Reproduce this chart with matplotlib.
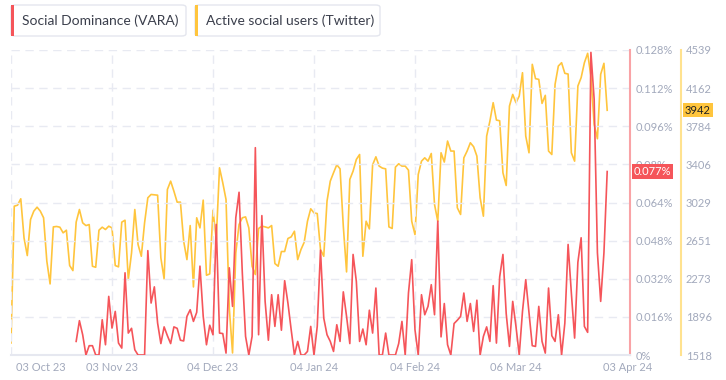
import pandas as pd
import matplotlib
matplotlib.use("Agg")
import matplotlib.pyplot as plt
import matplotlib.transforms as mtransforms
from matplotlib.patches import FancyBboxPatch, Rectangle

plt.rcParams['font.family'] = ['Lato', 'DejaVu Sans']

start_date = "2023-10-03"

# daily values (social dominance in %, first 20 days missing)
social_dominance = [None] * 20 + [
    0.0057, 0.0144, 0.0085, 0.0, 0.0039, 0.0039, 0.0, 0.0, 0.0148, 0.0043,
    0.0246, 0.0113, 0.0183, 0.0050, 0.0029, 0.0345, 0.0092, 0.0112, 0.0022, 0.0,
    0.0, 0.0, 0.0438, 0.0218, 0.0286, 0.0134, 0.0048, 0.0118, 0.0081, 0.0048,
    0.0118, 0.0112, 0.0062, 0.0059, 0.0162, 0.0190, 0.0141, 0.0179, 0.0373, 0.0162,
    0.0043, 0.0125, 0.0085, 0.0548, 0.0092, 0.0090, 0.0008, 0.0366, 0.0204, 0.0576,
    0.0683, 0.0345, 0.0078, 0.0, 0.0078, 0.0870, 0.0085, 0.0585, 0.0225, 0.0062,
    0.0253, 0.0120, 0.0253, 0.0104, 0.0312, 0.0218, 0.0106, 0.0, 0.0057, 0.0,
    0.0, 0.0015, 0.0120, 0.0, 0.0120, 0.0440, 0.0155, 0.0085, 0.0057, 0.0015,
    0.0127, 0.0057, 0.0265, 0.0162, 0.0048, 0.0422, 0.0309, 0.0057, 0.0109, 0.0043,
    0.0188, 0.0092, 0.0281, 0.0, 0.0, 0.0092, 0.0, 0.0, 0.0, 0.0048,
    0.0141, 0.0, 0.0260, 0.0400, 0.0106, 0.0, 0.0253, 0.0169, 0.0204, 0.0295,
    0.0169, 0.0562, 0.0076, 0.0216, 0.0043, 0.0, 0.0132, 0.0146, 0.0162, 0.0260,
    0.0141, 0.0216, 0.0099, 0.0230, 0.0, 0.0078, 0.0118, 0.0057, 0.0291, 0.0050,
    0.0328, 0.0422, 0.0174, 0.0036, 0.0225, 0.0120, 0.0, 0.0183, 0.0316, 0.0176,
    0.0039, 0.0036, 0.0204, 0.0057, 0.0008, 0.0281, 0.0081, 0.0057, 0.0169, 0.0,
    0.0134, 0.0464, 0.0260, 0.0071, 0.0389, 0.0492, 0.0120, 0.0095, 0.1270, 0.1073,
    0.0429, 0.0225, 0.0429, 0.0770,
]

active_users = [
    1637, 2992, 3002, 3065, 2678, 2503, 2860, 2943, 2982, 2943,
    2877, 2447, 2222, 2787, 2791, 2784, 2728, 2754, 2404, 2354,
    2834, 2959, 2827, 2800, 2810, 2397, 2387, 2754, 2784, 2761,
    2794, 2777, 2404, 2391, 2834, 2853, 2265, 2529, 2959, 2612,
    2496, 2827, 3075, 3108, 3105, 3101, 2480, 2272, 3157, 3240,
    3141, 3032, 3032, 2645, 2463, 2800, 2192, 2877, 2777, 3052,
    2308, 2321, 2952, 2662, 3372, 3224, 3058, 1984, 1538, 2529,
    2810, 2877, 2886, 2777, 2397, 2315, 2771, 2794, 2787, 2777,
    2800, 2424, 2397, 2543, 2543, 2672, 2688, 2744, 2463, 2562,
    2635, 2843, 2966, 2926, 2919, 2562, 2496, 3042, 3240, 3323,
    3402, 3362, 2794, 2341, 3257, 3339, 3455, 3504, 2496, 2843,
    2767, 3402, 3481, 3389, 3369, 3362, 2787, 2771, 3379, 3412,
    3389, 3389, 3349, 2843, 2711, 3306, 3438, 3471, 3438, 3514,
    3009, 2843, 3521, 3429, 3637, 3538, 3538, 2976, 2910, 3471,
    3538, 3620, 3581, 3488, 3075, 2893, 3686, 3835, 4017, 3845,
    3838, 3323, 3197, 3984, 4099, 4017, 4083, 4314, 3686, 3521,
    4397, 4255, 4248, 4010, 4090, 3538, 3504, 4199, 4380, 4413,
    4308, 4301, 3521, 3438, 4182, 4265, 4413, 4506, 4281, 3802,
    3660, 4298, 4407, 3942,
]

tick_dates = ["2023-10-03", "2023-11-03", "2023-12-04", "2024-01-04",
              "2024-02-04", "2024-03-06", "2024-04-03"]
tick_labels = ["03 Oct 23", "03 Nov 23", "04 Dec 23", "04 Jan 24",
               "04 Feb 24", "06 Mar 24", "03 Apr 24"]
dom_ticks = [0, 0.016, 0.032, 0.048, 0.064, 0.08, 0.096, 0.112, 0.128]
dom_labels = ["0%", "0.016%", "0.032%", "0.048%", "0.064%", "0.08%",
              "0.096%", "0.112%", "0.128%"]
user_ticks = [1518, 1896, 2273, 2651, 3029, 3406, 3784, 4162, 4539]

RED = "#f5555a"
YELLOW = "#ffc53d"
GRID = "#e8eaf2"
TICK = "#a2a9bc"

dates = pd.date_range(start_date, periods=len(active_users), freq="D")
tick_pos = pd.to_datetime(tick_dates)

W, H = 726, 380
PX = 72 / 100  # points per pixel
fig = plt.figure(figsize=(W / 100, H / 100), dpi=100)
ax = fig.add_axes([11 / W, 25 / H, (630 - 11) / W, (355 - 50) / H])
ay = ax.twinx()
ax.set_zorder(2)
ay.set_zorder(1)
ax.patch.set_visible(False)

ax.plot(dates, social_dominance, color=RED, lw=1.2, zorder=3)
ay.plot(dates, active_users, color=YELLOW, lw=1.2, zorder=3)

ax.set_xlim(dates[0], dates[0] + pd.Timedelta(days=190))
ax.set_ylim(0, 0.128)
ay.set_ylim(1518, 4539)

# grid
for y in dom_ticks[1:]:
    ax.axhline(y, color=GRID, lw=1, dashes=(6, 4), zorder=0)
for d in tick_pos[:-1]:
    ax.axvline(d, color=GRID, lw=1, dashes=(6, 4), zorder=0)

for a in (ax, ay):
    for s in ("top", "left"):
        a.spines[s].set_visible(False)
ax.spines["bottom"].set_color("#e6e8f0")
ax.spines["bottom"].set_linewidth(1.5)
ay.spines["bottom"].set_visible(False)
ax.spines["right"].set_color("#f9a3a6")
ax.spines["right"].set_linewidth(1.5)
ay.spines["right"].set_position(("outward", 51 * PX))
ay.spines["right"].set_color("#ffe28f")
ay.spines["right"].set_linewidth(1.5)

ax.yaxis.tick_right()
ax.set_yticks(dom_ticks)
ax.set_yticklabels(dom_labels)
ay.set_yticks(user_ticks)
ax.tick_params(axis="y", length=0, pad=6 * PX, labelsize=8, labelcolor=TICK)
ay.tick_params(axis="y", length=0, pad=5 * PX, labelsize=8, labelcolor=TICK)

ax.set_xticks(tick_pos)
ax.set_xticklabels(tick_labels)
ax.tick_params(axis="x", length=0, pad=5, labelsize=8, labelcolor=TICK)
xl = ax.get_xticklabels()
xl[0].set_ha("left")
xl[0].set_transform(xl[0].get_transform() + mtransforms.ScaledTranslation(5 / 100, 0, fig.dpi_scale_trans))
xl[-1].set_ha("left")
xl[-1].set_transform(xl[-1].get_transform() + mtransforms.ScaledTranslation(-4 / 100, 0, fig.dpi_scale_trans))

# last value badges
last_dom = social_dominance[-1]
last_users = active_users[-1]
ax.text(1.0, last_dom, f"{last_dom:.3f}%",
        transform=ax.get_yaxis_transform() + mtransforms.ScaledTranslation(4 / 100, 0, fig.dpi_scale_trans),
        ha="left", va="center", fontsize=8, color="white", zorder=10, clip_on=False,
        bbox=dict(boxstyle="square,pad=0.15", fc=RED, ec="none"))
ax.text(1.0, (last_users - 1518) / (4539 - 1518), f"{last_users}",
        transform=ax.transAxes + mtransforms.ScaledTranslation(55 / 100, 0, fig.dpi_scale_trans),
        ha="left", va="center", fontsize=8, color="#222222", zorder=10, clip_on=False,
        bbox=dict(boxstyle="square,pad=0.15", fc=YELLOW, ec="none"))

# legend chips
legend_items = [("Social Dominance (VARA)", RED, 11, 186), ("Active social users (Twitter)", YELLOW, 195, 380)]
for label, color, x0, x1 in legend_items:
    fig.patches.append(FancyBboxPatch((x0 / W, (H - 36) / H), (x1 - x0) / W, 31 / H,
                                      boxstyle="round,pad=0,rounding_size=0.006",
                                      transform=fig.transFigure, fc="white", ec="#e4e6ee", lw=1))
    fig.patches.append(Rectangle((x0 / W, (H - 36) / H), 3 / W, 31 / H,
                                 transform=fig.transFigure, fc=color, ec="none"))
    fig.text((x0 + 11) / W, (H - 20.5) / H, label, ha="left", va="center",
             fontsize=10, color="#3b3f4c")

fig.savefig("out.png", dpi=100)
